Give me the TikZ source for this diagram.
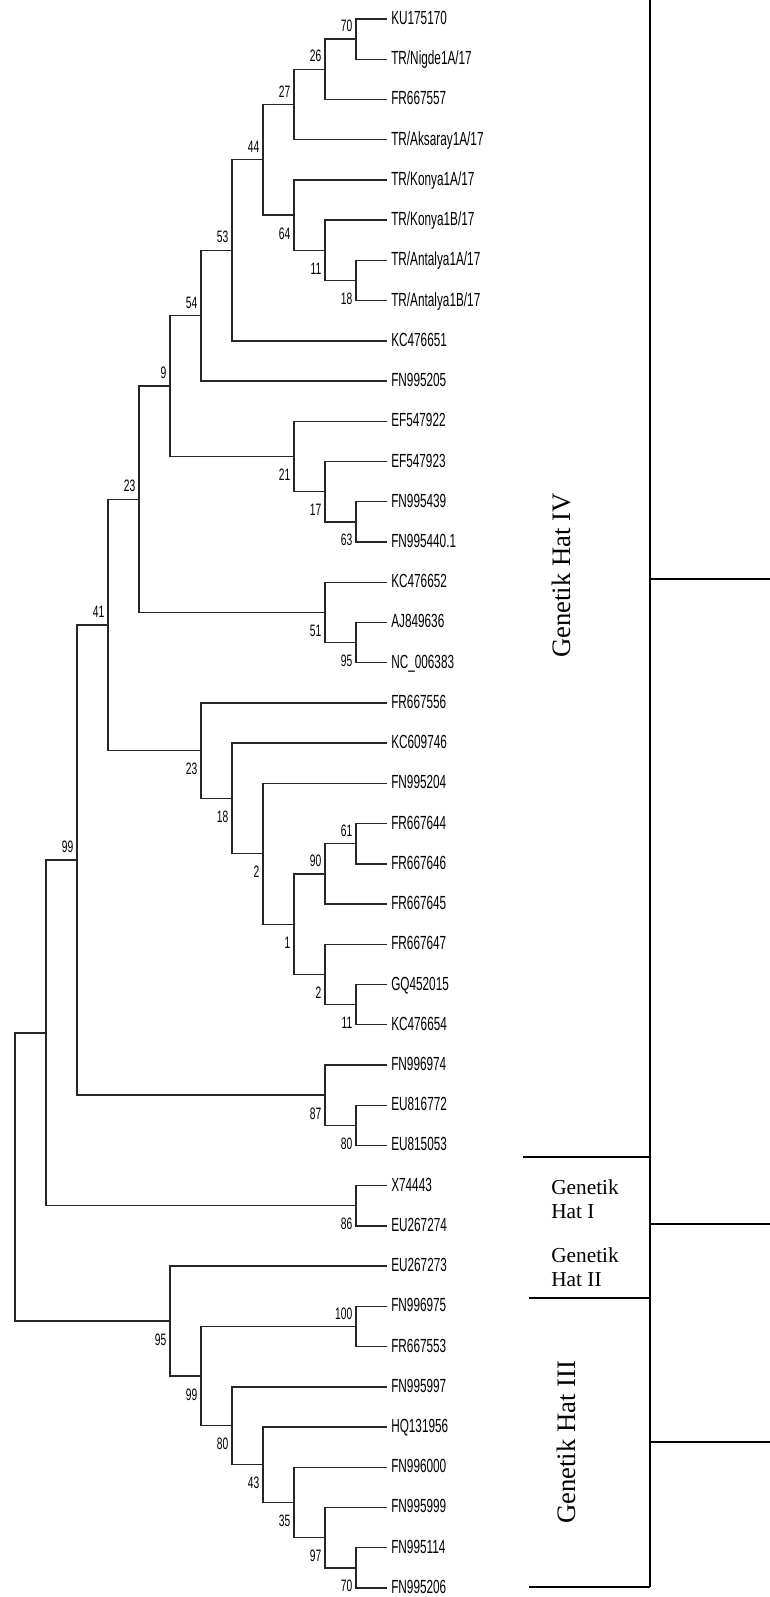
\documentclass[tikz,border=0pt]{standalone}
\usepackage{fontspec}
\setmainfont{Liberation Serif}
\newfontfamily\treefont[FakeStretch=0.62]{Liberation Sans}
\newcommand\leaffont{\treefont\fontsize{14.25}{16}\selectfont}
\newcommand\bsfont{\treefont\fontsize{12.4}{14}\selectfont}
\begin{document}
\begin{tikzpicture}[x=0.75pt,y=-0.75pt,
  edge/.style={draw=black!85, line width=1pt},
  leaflab/.style={anchor=base west, inner sep=0pt, xshift=3pt, yshift=-4.1pt, font=\leaffont},
  bsup/.style={anchor=base east, inner sep=0pt, xshift=-2.6pt, yshift=5.6pt, font=\bsfont},
  bsdn/.style={anchor=base east, inner sep=0pt, xshift=-2.6pt, yshift=-18pt, font=\bsfont},
  bracket/.style={draw=black, line width=1.5pt},
  hatlab/.style={anchor=base west, inner sep=0pt, font=\fontsize{16}{18}\selectfont},
  hatrot/.style={inner sep=0pt, anchor=base, rotate=90, font=\fontsize{20}{24}\selectfont}]
\useasboundingbox (0,0) rectangle (770,1597);
% leaf tips
\foreach \i in {0,...,39} \coordinate (l\i) at (387,{19+40.23*\i});
% internal nodes (x = 387 - 31 h)
\coordinate (A) at (356,39.12);
\coordinate (B) at (325,69.29);
\coordinate (C) at (294,104.49);
\coordinate (D) at (356,280.50);
\coordinate (E) at (325,250.32);
\coordinate (F) at (294,215.12);
\coordinate (G) at (263,159.81);
\coordinate (H) at (232,250.32);
\coordinate (I) at (201,315.70);
\coordinate (J) at (356,521.88);
\coordinate (K) at (325,491.70);
\coordinate (L) at (294,456.50);
\coordinate (M) at (170,386.10);
\coordinate (N) at (356,642.57);
\coordinate (O) at (325,612.39);
\coordinate (P) at (139,499.25);
\coordinate (Q) at (356,843.72);
\coordinate (R) at (325,873.89);
\coordinate (S) at (356,1004.64);
\coordinate (T) at (325,974.46);
\coordinate (U) at (294,924.18);
\coordinate (V) at (263,853.77);
\coordinate (W) at (232,798.46);
\coordinate (X) at (201,750.68);
\coordinate (Y) at (108,624.97);
\coordinate (Za) at (356,1125.33);
\coordinate (Zb) at (325,1095.15);
\coordinate (AA) at (77,860.06);
\coordinate (AB) at (356,1205.79);
\coordinate (AC) at (46,1032.92);
\coordinate (BA) at (356,1567.86);
\coordinate (BB) at (325,1537.68);
\coordinate (BC) at (294,1502.48);
\coordinate (BD) at (263,1464.77);
\coordinate (BE) at (232,1425.79);
\coordinate (BF) at (356,1326.48);
\coordinate (BG) at (201,1376.13);
\coordinate (BH) at (170,1321.13);
\coordinate (RT) at (15,1177.02);
% branches
\foreach \p/\c in {A/l0,A/l1,B/A,B/l2,C/B,C/l3,D/l6,D/l7,E/l5,E/D,F/l4,F/E,G/C,G/F,
  H/G,H/l8,I/H,I/l9,J/l12,J/l13,K/l11,K/J,L/l10,L/K,M/I,M/L,N/l15,N/l16,O/l14,O/N,
  P/M,P/O,Q/l20,Q/l21,R/Q,R/l22,S/l24,S/l25,T/l23,T/S,U/R,U/T,V/l19,V/U,W/l18,W/V,
  X/l17,X/W,Y/P,Y/X,Za/l27,Za/l28,Zb/l26,Zb/Za,AA/Y,AA/Zb,AB/l29,AB/l30,AC/AA,AC/AB,
  BA/l38,BA/l39,BB/l37,BB/BA,BC/l36,BC/BB,BD/l35,BD/BC,BE/l34,BE/BD,BF/l32,BF/l33,
  BG/BF,BG/BE,BH/l31,BH/BG,RT/AC,RT/BH}
  \draw[edge] (\p) |- (\c);
% bootstrap values
\foreach \n/\v in {A/70,B/26,C/27,G/44,H/53,I/54,M/9,P/23,Y/41,R/90,Q/61,AA/99,BF/100}
  \node[bsup] (b\n) at (\n) {\v};
\foreach \n/\v in {F/64,E/11,D/18,L/21,K/17,J/63,O/51,N/95,X/23,W/18,V/2,U/1,T/2,S/11,
  Zb/87,Za/80,AB/86,BH/95,BG/99,BE/80,BD/43,BC/35,BB/97,BA/70}
  \node[bsdn] (b\n) at (\n) {\v};
% leaf labels
\node[leaflab] (t0) at (l0) {KU175170};
\node[leaflab] (t1) at (l1) {TR/Nigde1A/17};
\node[leaflab] (t2) at (l2) {FR667557};
\node[leaflab] (t3) at (l3) {TR/Aksaray1A/17};
\node[leaflab] (t4) at (l4) {TR/Konya1A/17};
\node[leaflab] (t5) at (l5) {TR/Konya1B/17};
\node[leaflab] (t6) at (l6) {TR/Antalya1A/17};
\node[leaflab] (t7) at (l7) {TR/Antalya1B/17};
\node[leaflab] (t8) at (l8) {KC476651};
\node[leaflab] (t9) at (l9) {FN995205};
\node[leaflab] (t10) at (l10) {EF547922};
\node[leaflab] (t11) at (l11) {EF547923};
\node[leaflab] (t12) at (l12) {FN995439};
\node[leaflab] (t13) at (l13) {FN995440.1};
\node[leaflab] (t14) at (l14) {KC476652};
\node[leaflab] (t15) at (l15) {AJ849636};
\node[leaflab] (t16) at (l16) {NC\_006383};
\node[leaflab] (t17) at (l17) {FR667556};
\node[leaflab] (t18) at (l18) {KC609746};
\node[leaflab] (t19) at (l19) {FN995204};
\node[leaflab] (t20) at (l20) {FR667644};
\node[leaflab] (t21) at (l21) {FR667646};
\node[leaflab] (t22) at (l22) {FR667645};
\node[leaflab] (t23) at (l23) {FR667647};
\node[leaflab] (t24) at (l24) {GQ452015};
\node[leaflab] (t25) at (l25) {KC476654};
\node[leaflab] (t26) at (l26) {FN996974};
\node[leaflab] (t27) at (l27) {EU816772};
\node[leaflab] (t28) at (l28) {EU815053};
\node[leaflab] (t29) at (l29) {X74443};
\node[leaflab] (t30) at (l30) {EU267274};
\node[leaflab] (t31) at (l31) {EU267273};
\node[leaflab] (t32) at (l32) {FN996975};
\node[leaflab] (t33) at (l33) {FR667553};
\node[leaflab] (t34) at (l34) {FN995997};
\node[leaflab] (t35) at (l35) {HQ131956};
\node[leaflab] (t36) at (l36) {FN996000};
\node[leaflab] (t37) at (l37) {FN995999};
\node[leaflab] (t38) at (l38) {FN995114};
\node[leaflab] (t39) at (l39) {FN995206};
% clade brackets
\coordinate (vt) at (650,0);
\coordinate (vb) at (650,1587);
\draw[bracket] (vt) -- (vb);
\coordinate (c1a) at (523,1157); \coordinate (c1b) at (650,1157);
\coordinate (c2a) at (529,1298); \coordinate (c2b) at (650,1298);
\coordinate (c3a) at (529,1587); \coordinate (c3b) at (650,1587);
\draw[bracket] (c1a) -- (c1b);
\draw[bracket] (c2a) -- (c2b);
\draw[bracket] (c3a) -- (c3b);
\coordinate (r1a) at (650,579); \coordinate (r1b) at (770,579);
\coordinate (r2a) at (650,1224); \coordinate (r2b) at (770,1224);
\coordinate (r3a) at (650,1442); \coordinate (r3b) at (770,1442);
\draw[bracket] (r1a) -- (r1b);
\draw[bracket] (r2a) -- (r2b);
\draw[bracket] (r3a) -- (r3b);
% clade labels
\node[hatrot] (hIV) at (570.5,575.5) {Genetik Hat IV};
\node[hatrot] (hIII) at (575.5,1442.5) {Genetik Hat III};
\node[hatlab] (hIa) at (551,1194) {Genetik};
\node[hatlab] (hIb) at (551,1218) {Hat I};
\node[hatlab] (hIIa) at (551,1262) {Genetik};
\node[hatlab] (hIIb) at (551,1286) {Hat II};
\end{tikzpicture}
\end{document}
